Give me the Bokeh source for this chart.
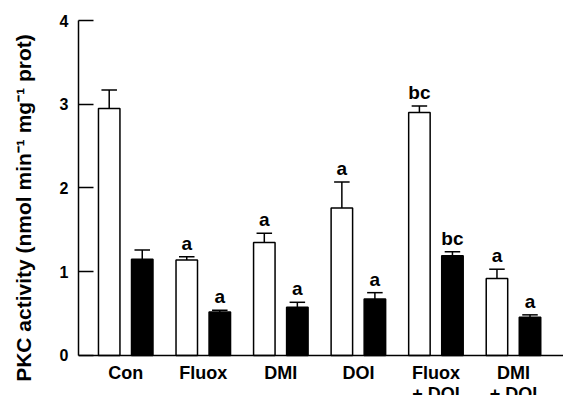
from bokeh.plotting import figure
from bokeh.models import Range1d, FixedTicker, Span, ColumnDataSource
from bokeh.core.properties import value
from bokeh.embed import file_html
from bokeh.resources import INLINE

groups = ["Con", "Fluox", "DMI", "DOI", "Fluox\n+ DOI", "DMI\n+ DOI"]
white_vals = [2.95, 1.14, 1.35, 1.76, 2.90, 0.92]
white_err = [0.22, 0.04, 0.11, 0.31, 0.08, 0.11]
black_vals = [1.15, 0.52, 0.575, 0.675, 1.19, 0.455]
black_err = [0.11, 0.02, 0.06, 0.075, 0.05, 0.03]
white_sig = ["", "a", "a", "a", "bc", "a"]
black_sig = ["", "a", "a", "a", "bc", "a"]
y_ticks = [0, 1, 2, 3, 4]

FONT = "Liberation Sans"
OFF = 0.213
BW = 0.277
CAP = 0.1

p = figure(width=563, height=395, output_backend="svg", toolbar_location=None,
           x_range=Range1d(-0.609, 5.645), y_range=Range1d(-0.478, 4),
           min_border_left=78, min_border_top=20, min_border_bottom=0,
           min_border_right=0)
p.outline_line_color = None
p.xgrid.visible = False
p.ygrid.visible = False
p.xaxis.visible = False
p.background_fill_color = "white"
p.border_fill_color = "white"

xs = list(range(len(groups)))
wx = [i - OFF for i in xs]
bx = [i + OFF for i in xs]

ws = ColumnDataSource(dict(x=wx, top=white_vals, err=[v + e for v, e in zip(white_vals, white_err)],
                           x0=[x - CAP for x in wx], x1=[x + CAP for x in wx], sig=white_sig))
bs = ColumnDataSource(dict(x=bx, top=black_vals, err=[v + e for v, e in zip(black_vals, black_err)],
                           x0=[x - CAP for x in bx], x1=[x + CAP for x in bx], sig=black_sig))

for src, fill in ((ws, "white"), (bs, "black")):
    p.segment(x0="x", y0="top", x1="x", y1="err", source=src, line_color="black", line_width=1.5)
    p.segment(x0="x0", y0="err", x1="x1", y1="err", source=src, line_color="black", line_width=1.5)
    p.vbar(x="x", top="top", bottom=0, width=BW, source=src, fill_color=fill,
           line_color="black", line_width=1.5)
    p.text(x="x", y="err", text="sig", source=src, text_align="center", text_baseline="bottom",
           y_offset=-3, text_font=value(FONT), text_font_style="bold", text_font_size="19px",
           text_color="black")

# x baseline at zero
p.add_layout(Span(location=0, dimension="width", line_color="black", line_width=1.5))

# category labels below baseline
cat = ColumnDataSource(dict(x=xs, y=[0] * len(xs), t=groups))
p.text(x="x", y="y", text="t", source=cat, text_align="center", text_baseline="top",
       y_offset=8, text_font=value(FONT), text_font_style="bold", text_font_size="18px",
       text_color="black", text_line_height=1.05)

# y axis
p.yaxis.ticker = FixedTicker(ticks=y_ticks)
p.yaxis.bounds = (0, 4)
p.yaxis.major_tick_in = 15
p.yaxis.major_tick_out = 0
p.yaxis.minor_tick_line_color = None
p.yaxis.major_tick_line_width = 1.5
p.yaxis.axis_line_width = 1.5
p.yaxis.major_label_standoff = 10
p.yaxis.major_label_text_font = FONT
p.yaxis.major_label_text_font_style = "bold"
p.yaxis.major_label_text_font_size = "16px"
p.yaxis.major_label_text_color = "black"
p.yaxis.axis_label = "PKC activity (nmol min\u207b\u00b9 mg\u207b\u00b9 prot)"
p.yaxis.axis_label_text_font = FONT
p.yaxis.axis_label_text_font_style = "bold"
p.yaxis.axis_label_text_font_size = "21px"
p.yaxis.axis_label_text_color = "black"
p.yaxis.axis_label_standoff = 22

open("out.html", "w").write(file_html(p, INLINE))
